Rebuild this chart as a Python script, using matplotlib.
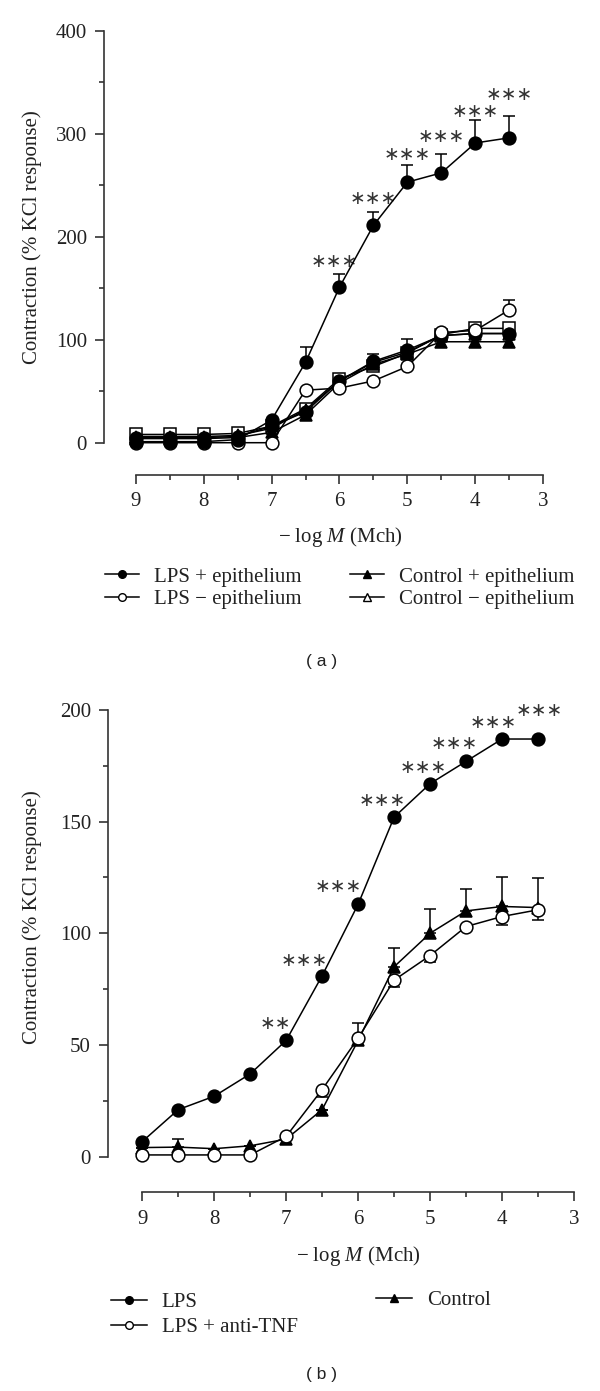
import matplotlib.pyplot as plt
from matplotlib.lines import Line2D
from matplotlib.ticker import MultipleLocator

plt.rcParams['font.family'] = 'Liberation Serif'
plt.rcParams['mathtext.fontset'] = 'custom'
plt.rcParams['mathtext.rm'] = 'Liberation Serif'
plt.rcParams['mathtext.it'] = 'Liberation Serif:italic'

conc = [9, 8.5, 8, 7.5, 7, 6.5, 6, 5.5, 5, 4.5, 4, 3.5]

# ---- panel (a) ----
a_lps_epi = [1, 1, 1, 3, 22, 78, 151, 211, 253, 262, 291, 296]
a_lps_epi_err = [0, 0, 0, 0, 0, 15, 13, 13, 17, 18, 22, 21]
a_lps_noepi = [0, 0, 0, 0, 0, 51, 53, 60, 74, 107, 109, 129]
a_lps_noepi_err = [0, 0, 0, 0, 0, 0, 0, 0, 0, 0, 0, 10]
a_ctrl_epi = [4, 4, 4, 5, 10, 27, 58, 76, 86, 98, 98, 98]
a_ctrl_noepi = [6, 6, 6, 7, 14, 32, 60, 78, 88, 104, 106, 106]
# extra symbols visible in the plot but not in the legend
a_square = [8, 8, 8, 9, 16, 33, 62, 74, 87, 105, 111, 111]
a_square_err = [0, 0, 0, 0, 0, 0, 0, 12, 14, 0, 5, 3]
a_dot = [5, 5, 5, 6, 16, 30, 60, 79, 90, 104, 106, 106]

stars_a_x = [6.07, 5.5, 5, 4.5, 4, 3.5]
stars_a_y = [176, 237, 280, 297, 322, 338]
stars_a_txt = ['***'] * 6

# ---- panel (b) ----
b_lps = [6.7, 21, 27, 37, 52, 81, 113, 152, 167, 177, 187, 187]
b_anti = [0.7, 0.7, 0.7, 0.7, 9, 30, 53, 79, 90, 103, 107.5, 110.5]
b_anti_lo = [0, 0, 0, 0, 0, 3.5, 0, 3, 3, 0, 4, 4.5]
b_anti_hi = [0, 0, 0, 0, 0, 0, 7, 0, 0, 0, 0, 0]
b_ctrl = [4, 4.2, 3.5, 4.8, 7.8, 21, 52, 85, 100, 110, 112, 111.5]
b_ctrl_hi = [0, 3.6, 0, 0, 0, 0, 0, 8.3, 11, 10, 13.4, 13.3]

stars_b_x = [7.15, 6.75, 6.27, 5.67, 5.1, 4.67, 4.12, 3.48]
stars_b_y = [59.7, 88, 121, 159.4, 174.4, 185, 194.4, 200]
stars_b_txt = ['**'] + ['***'] * 7

fig = plt.figure(figsize=(6, 13.91), dpi=100)
ax_a = fig.add_axes([104.3 / 600, 1 - 475 / 1391, 439 / 600, 444.3 / 1391])
ax_b = fig.add_axes([108.3 / 600, 1 - 1192.3 / 1391, 465.7 / 600, 482.3 / 1391])

ms = 9.2
lw = 1.1
ax_color = '#333333'


def series(ax, y, marker, filled, lo=None, hi=None, z=3):
    if hi is not None:
        if lo is None:
            lo = [0] * len(hi)
        ax.errorbar(conc, y, yerr=[lo, hi], fmt='none', ecolor='black',
                    elinewidth=lw, capsize=4.6, capthick=lw, zorder=z - 0.5)
    ax.plot(conc, y, color='black', lw=lw, marker=marker, ms=ms,
            mfc='black' if filled else 'white', mec='black', mew=lw, zorder=z)


series(ax_a, a_square, 's', False, hi=a_square_err, z=3)
series(ax_a, a_ctrl_noepi, '^', False, z=4)
series(ax_a, a_ctrl_epi, '^', True, z=5)
series(ax_a, a_dot, 'o', True, z=6)
series(ax_a, a_lps_noepi, 'o', False, hi=a_lps_noepi_err, z=7)
series(ax_a, a_lps_epi, 'o', True, hi=a_lps_epi_err, z=8)

series(ax_b, b_ctrl, '^', True, hi=b_ctrl_hi, z=4)
series(ax_b, b_anti, 'o', False, lo=b_anti_lo, hi=b_anti_hi, z=5)
series(ax_b, b_lps, 'o', True, z=6)

for sx, sy, st in zip(stars_a_x, stars_a_y, stars_a_txt):
    ax_a.text(sx, sy, st.replace('*', '\u2217'), family='DejaVu Sans', fontsize=13.5,
              ha='center', va='center', color='#333333')
for sx, sy, st in zip(stars_b_x, stars_b_y, stars_b_txt):
    ax_b.text(sx, sy, st.replace('*', '\u2217'), family='DejaVu Sans', fontsize=13.5,
              ha='center', va='center', color='#333333')

fs = 15
for ax, ymax, ymajor, yminor, xl, ylab_y in [
        (ax_a, 400, 100, 50, 9 + 31.4 / 68, 0.5345),
        (ax_b, 200, 50, 25, 9 + 34 / 72, 0.571)]:
    ax.set_xlim(xl, 3)
    if ax is ax_a:
        ax.set_ylim(-32.3 / 1.03, 400)
    else:
        ax.set_ylim(-35.8 / 2.2325, 200)
    ax.spines['top'].set_visible(False)
    ax.spines['right'].set_visible(False)
    ax.spines['left'].set_bounds(0, ymax)
    ax.spines['bottom'].set_bounds(9, 3)
    for s in ('left', 'bottom'):
        ax.spines[s].set_color(ax_color)
        ax.spines[s].set_linewidth(1.2)
    ax.xaxis.set_major_locator(MultipleLocator(1))
    ax.xaxis.set_minor_locator(MultipleLocator(0.5))
    ax.yaxis.set_major_locator(MultipleLocator(ymajor))
    ax.yaxis.set_minor_locator(MultipleLocator(yminor))
    ax.set_xticks([9, 8, 7, 6, 5, 4, 3])
    ax.set_xticklabels(['9', '8', '7', '6', '5', '4', '3'])
    ax.set_yticks(list(range(0, ymax + 1, ymajor)))
    ax.tick_params(which='major', direction='out', length=6.5, width=1.2,
                   color=ax_color, labelsize=fs, labelcolor='#222222', pad=6)
    ax.tick_params(which='minor', direction='out', length=3.8, width=1.2,
                   color=ax_color)
    ax.set_xlabel('\u2212 log $M$ (Mch)', fontsize=fs, color='#222222')
    ax.set_ylabel('Contraction (% KCl response)', fontsize=fs, color='#222222')
    ax.yaxis.set_label_coords(-0.142, ylab_y)
    for line in ax.get_lines():
        line.set_clip_on(False)

ax_a.xaxis.set_label_coords((340 - 104.3) / 439, (475 - 525) / 444.3)
ax_b.xaxis.set_label_coords((358 - 108.3) / 465.7, (1192.3 - 1244) / 482.3)


def handle(marker, filled):
    return Line2D([], [], color='black', lw=1.1, marker=marker, ms=5.5,
                  mfc='black' if filled else 'white', mec='black', mew=1.0)


leg_kw = dict(frameon=False, fontsize=fs, borderpad=0, borderaxespad=0,
              handlelength=1.65, handletextpad=0.7, labelspacing=0.15,
              loc='center left', labelcolor='#222222')
fig.legend([handle('o', True), handle('o', False)],
           ['LPS + epithelium', 'LPS \u2212 epithelium'],
           bbox_to_anchor=(105 / 600, 1 - 588.3 / 1391), **leg_kw)
fig.legend([handle('^', True), handle('^', False)],
           ['Control + epithelium', 'Control \u2212 epithelium'],
           bbox_to_anchor=(350 / 600, 1 - 588.3 / 1391), **leg_kw)

leg_kw['handlelength'] = 1.75
leg_kw['labelspacing'] = 0.25
fig.legend([handle('o', True), handle('o', False)],
           ['LPS', 'LPS + anti-TNF'],
           bbox_to_anchor=(110.7 / 600, 1 - 1315 / 1391), **leg_kw)
fig.legend([handle('^', True)], ['Control'],
           bbox_to_anchor=(376 / 600, 1 - 1300.7 / 1391), **leg_kw)

fig.text(321.7 / 600, 1 - 661.7 / 1391, '( a )', family='Liberation Sans',
         fontsize=12.5, ha='center', va='center', color='#222222')
fig.text(321.7 / 600, 1 - 1375 / 1391, '( b )', family='Liberation Sans',
         fontsize=12.5, ha='center', va='center', color='#222222')

fig.savefig('out.png', dpi=100)
